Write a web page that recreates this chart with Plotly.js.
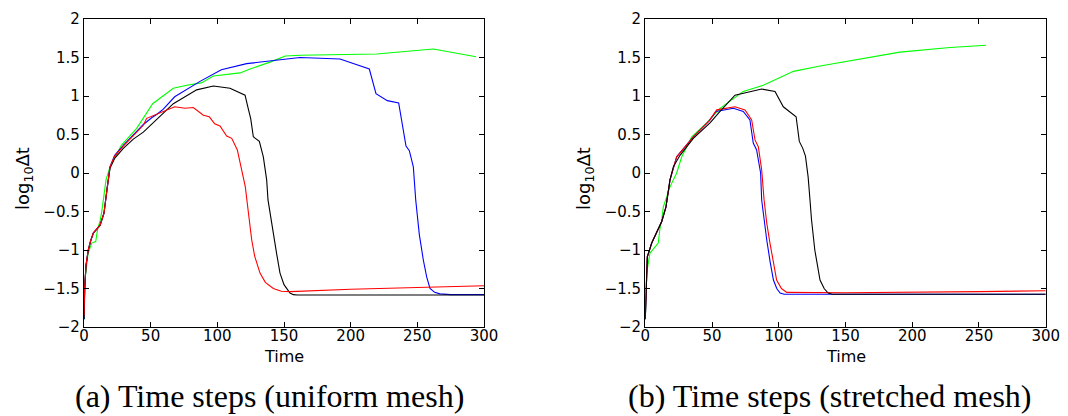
<!DOCTYPE html>
<html>
<head>
<meta charset="utf-8">
<script src="https://cdn.plot.ly/plotly-3.0.1.min.js"></script>
<style>html,body{margin:0;padding:0;background:#fff;}#chart{width:1068px;height:416px;}</style>
</head>
<body>
<div id="chart"></div>
<script>
// ---- Panel (a): uniform mesh ----
const aGreenX = [0,1,3,5.75,8.8,10.3,12,13.5,16.5,19.5,28,39.5,51.5,67,77,88,97,117,124.5,139.5,151,162,219.5,262,294];
const aGreenY = [-1.9,-1.35,-1.05,-0.91,-0.89,-0.72,-0.63,-0.48,-0.09,0.08,0.36,0.58,0.9,1.1,1.14,1.17,1.26,1.30,1.35,1.44,1.52,1.53,1.545,1.61,1.51];

const aBlueX = [0,0.5,1.5,3.2,5,7,10,12,15,16.5,17.5,19.5,23,29.5,37,44.5,51,54.5,59.5,68,87,103,122,144.5,162,192,214,219,227.5,236,241.5,244,247,248.8,251.5,254.5,257,259.5,263,267,275,300];
const aBlueY = [-1.9,-1.5,-1.2,-1.0,-0.88,-0.78,-0.72,-0.68,-0.52,-0.35,-0.18,0.08,0.23,0.36,0.50,0.63,0.72,0.76,0.83,0.99,1.19,1.34,1.42,1.47,1.50,1.48,1.35,1.03,0.94,0.91,0.35,0.29,0.08,-0.35,-0.80,-1.13,-1.35,-1.50,-1.55,-1.57,-1.58,-1.58];

const aBlackX = [0,0.5,1.5,3.2,5,7,10,12,15,16.5,17.5,19.5,23,29.5,37,44.5,57,67,84.5,97,109.5,120.8,123,125,127,131.5,134.5,137,138,140,142,144.5,147,150,154.5,157,160,300];
const aBlackY = [-1.9,-1.5,-1.2,-1.0,-0.88,-0.78,-0.72,-0.68,-0.52,-0.35,-0.18,0.06,0.19,0.32,0.44,0.53,0.73,0.90,1.08,1.13,1.10,1.01,0.85,0.71,0.47,0.41,0.21,-0.09,-0.35,-0.58,-0.78,-1.05,-1.30,-1.45,-1.56,-1.58,-1.585,-1.585];

const aRedX = [0,0.5,1.5,3.2,5,7,10,12,15,16.5,17.5,19.5,23,29.5,37,44.5,47,57,68,75.8,82,89.5,94,98,102,107,110.8,115,118,121,122.5,124,125.8,128,132,136,142,148,155,200,250,300];
const aRedY = [-1.85,-1.5,-1.2,-1.0,-0.88,-0.78,-0.72,-0.68,-0.52,-0.35,-0.18,0.08,0.22,0.35,0.49,0.62,0.71,0.78,0.86,0.84,0.85,0.75,0.73,0.64,0.61,0.48,0.45,0.30,0.08,-0.18,-0.40,-0.65,-0.87,-1.08,-1.30,-1.42,-1.50,-1.535,-1.54,-1.51,-1.49,-1.465];

// ---- Panel (b): stretched mesh ----
const bGreenX = [0,1,3.5,7.3,9.7,11,12.3,13.5,18.5,23.5,27.3,34.8,46,56,73.4,88.4,111,131,141,190.8,228.3,255.3];
const bGreenY = [-1.9,-1.3,-1.04,-0.96,-0.91,-0.72,-0.62,-0.44,-0.18,0.0,0.21,0.47,0.65,0.84,1.06,1.14,1.32,1.39,1.42,1.57,1.63,1.66];

const bBlueX = [0,0.5,1.5,4.8,8.5,12.3,15.5,18.5,23.5,36,48,53,66,73.4,78.4,80.9,83.4,86.4,87.2,89,91,93.5,96,98.5,101,104,300];
const bBlueY = [-1.9,-1.56,-1.09,-0.91,-0.76,-0.63,-0.44,-0.09,0.21,0.47,0.68,0.80,0.84,0.80,0.69,0.39,0.30,0.0,-0.35,-0.62,-0.87,-1.15,-1.39,-1.50,-1.56,-1.575,-1.575];

const bRedX = [0,0.5,1.5,4.8,8.5,12.3,15.5,18.5,23.5,36,48,53.5,67.2,74.7,79.7,82.2,84.7,87.2,89,91,93.4,96,98.4,102,106,150,200,250,300];
const bRedY = [-1.85,-1.56,-1.09,-0.91,-0.76,-0.63,-0.44,-0.09,0.21,0.47,0.68,0.82,0.86,0.82,0.69,0.43,0.34,0.04,-0.35,-0.65,-0.91,-1.18,-1.39,-1.50,-1.55,-1.555,-1.55,-1.54,-1.53];

const bBlackX = [0,0.5,1.5,4.8,8.5,12.3,15.5,18.5,21,26,36,48.5,56,67.2,87.2,97.2,103.4,113,115.4,118,120,122,123.4,124.5,127,130.9,134,137,140,300];
const bBlackY = [-1.9,-1.56,-1.09,-0.91,-0.76,-0.63,-0.44,-0.09,0.08,0.23,0.45,0.65,0.80,1.01,1.09,1.06,0.86,0.73,0.41,0.32,0.22,-0.05,-0.35,-0.6,-1.0,-1.39,-1.50,-1.56,-1.575,-1.575];

const xTicks = [0,50,100,150,200,250,300];
const yTicks = [-2,-1.5,-1,-0.5,0,0.5,1,1.5,2];
const captions = ["(a) Time steps (uniform mesh)", "(b) Time steps (stretched mesh)"];

function tr(x, y, color, xa, ya) {
  return {x: x, y: y, type: 'scatter', mode: 'lines', xaxis: xa, yaxis: ya,
          line: {color: color, width: 1.1}, hoverinfo: 'skip', showlegend: false};
}

const data = [
  tr(aGreenX, aGreenY, '#00ff00', 'x', 'y'),
  tr(aBlueX, aBlueY, '#0000ff', 'x', 'y'),
  tr(aBlackX, aBlackY, '#000000', 'x', 'y'),
  tr(aRedX, aRedY, '#ff0000', 'x', 'y'),
  tr(bGreenX, bGreenY, '#00ff00', 'x2', 'y2'),
  tr(bBlueX, bBlueY, '#0000ff', 'x2', 'y2'),
  tr(bRedX, bRedY, '#ff0000', 'x2', 'y2'),
  tr(bBlackX, bBlackY, '#000000', 'x2', 'y2')
];

const sans = 'DejaVu Sans, Verdana, sans-serif';
const tickFont = {family: sans, size: 15, color: '#000'};
const labelFont = {family: sans, size: 16, color: '#000'};
const ylabFont = {family: sans, size: 18, color: '#000'};
const capFont = {family: 'Liberation Serif, Times New Roman, serif', size: 32, color: '#000'};

function xax(domain, anchor) {
  return {domain: domain, anchor: anchor, range: [0, 300], tickvals: xTicks,
    ticks: 'inside', ticklen: 5, tickcolor: '#000', tickwidth: 1,
    showline: true, linecolor: '#000', linewidth: 1.2, mirror: 'ticks',
    showgrid: false, zeroline: false, tickfont: tickFont, ticklabelstandoff: -5};
}
function yax(anchor) {
  return {domain: [1 - 327/416, 1 - 19/416], anchor: anchor, range: [-2, 2], tickvals: yTicks,
    ticks: 'inside', ticklen: 5, tickcolor: '#000', tickwidth: 1,
    showline: true, linecolor: '#000', linewidth: 1.2, mirror: 'ticks',
    showgrid: false, zeroline: false, tickfont: tickFont};
}

const layout = {
  width: 1068, height: 416,
  margin: {l: 0, r: 0, t: 0, b: 0},
  paper_bgcolor: '#fff', plot_bgcolor: '#fff',
  xaxis: xax([84/1068, 484/1068], 'y'),
  yaxis: yax('x'),
  xaxis2: xax([645.3/1068, 1045.7/1068], 'y2'),
  yaxis2: yax('x2'),
  annotations: [
    {text: 'Time', xref: 'paper', yref: 'paper', x: 284/1068, y: 1 - 356/416, showarrow: false,
     font: labelFont, xanchor: 'center', yanchor: 'middle'},
    {text: 'Time', xref: 'paper', yref: 'paper', x: 845.5/1068, y: 1 - 356/416, showarrow: false,
     font: labelFont, xanchor: 'center', yanchor: 'middle'},
    {text: 'log<sub>10</sub>Δt', xref: 'paper', yref: 'paper', x: 24/1068, y: 1 - 179/416, showarrow: false,
     textangle: -90, font: ylabFont, xanchor: 'center', yanchor: 'middle'},
    {text: 'log<sub>10</sub>Δt', xref: 'paper', yref: 'paper', x: 585/1068, y: 1 - 179/416, showarrow: false,
     textangle: -90, font: ylabFont, xanchor: 'center', yanchor: 'middle'},
    {text: captions[0], xref: 'paper', yref: 'paper', x: 269/1068, y: 1 - 396/416, showarrow: false,
     font: capFont, xanchor: 'center', yanchor: 'middle'},
    {text: captions[1], xref: 'paper', yref: 'paper', x: 830/1068, y: 1 - 396/416, showarrow: false,
     font: capFont, xanchor: 'center', yanchor: 'middle'}
  ]
};

Plotly.newPlot('chart', data, layout, {staticPlot: true, displayModeBar: false});
</script>
</body>
</html>
